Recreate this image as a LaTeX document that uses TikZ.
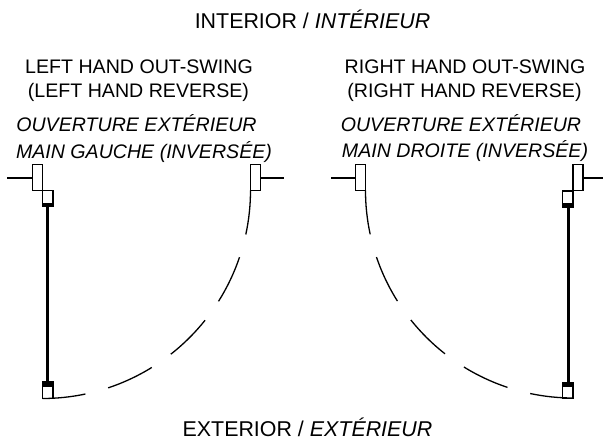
\documentclass[tikz,border=0pt]{standalone}
\usepackage{fontspec}
\setmainfont{Liberation Sans}
\begin{document}
\begin{tikzpicture}[x=1pt,y=-1pt,
  thin line/.style={line width=1.3pt,draw=black},
  leaf/.style={line width=3pt,draw=black},
  block/.style={fill=black,draw=none},
  label/.style={inner sep=0pt,font=\fontsize{19.6pt}{22pt}\selectfont,anchor=base},
  biglabel/.style={label,font=\fontsize{21.4pt}{24pt}\selectfont}]
\useasboundingbox (0,0) rectangle (603,441);
\fill[white] (0,0) rectangle (603,441);
% texts
\node[biglabel] (tI) at (312.5,28.5) {INTERIOR / \textit{INTÉRIEUR}};
\node[biglabel] (tE) at (307.5,436.5) {EXTERIOR / \textit{EXTÉRIEUR}};
\node[label] (tL1) at (139,74) {LEFT HAND OUT-SWING};
\node[label] (tL2) at (138.5,98) {(LEFT HAND REVERSE)};
\node[label] (tL3) at (136.5,132) {\itshape OUVERTURE EXTÉRIEUR};
\node[label] (tL4) at (144,159) {\itshape MAIN GAUCHE (INVERSÉE)};
\node[label] (tR1) at (465,74) {RIGHT HAND OUT-SWING};
\node[label] (tR2) at (464.5,98) {(RIGHT HAND REVERSE)};
\node[label] (tR3) at (461,131.5) {\itshape OUVERTURE EXTÉRIEUR};
\node[label] (tR4) at (465,158) {\itshape MAIN DROITE (INVERSÉE)};
% left door
\draw[thin line] (32.5,164.5) rectangle (42.5,190.5);
\draw[thin line] (7,178) -- (32.5,178);
\draw[thin line] (42.5,190.5) rectangle (53,204);
\fill[block] (41.8,203) rectangle (53.7,207.5);
\draw[leaf] (47.5,205) -- (47.5,384);
\fill[block] (41.8,381) rectangle (53.7,386.5);
\draw[thin line] (42.5,386) rectangle (53,398.5);
\draw[thin line] (250.5,164.5) rectangle (260.5,190.5);
\draw[thin line] (260.5,178) -- (284,178);
% right door
\draw[thin line] (355.5,164.5) rectangle (365.5,190.5);
\draw[thin line] (331,178) -- (355.5,178);
\draw[thin line] (573,164.5) rectangle (583,190.5);
\draw[thin line] (583,178) -- (603,178);
\draw[thin line] (562.5,191) rectangle (573,204);
\fill[block] (561.8,203.5) rectangle (573.7,208);
\draw[leaf] (568,205) -- (568,384);
\fill[block] (561.8,381.5) rectangle (573.7,387);
\draw[thin line] (562.5,386.5) rectangle (573,398.5);
% swing arcs
\foreach \a/\b in {-90/-78.1,-71.6/-58.3,-51.9/-38.6,-32.2/-18.7,-12.2/0}{
  \draw[thin line] (42.5,190.5) ++(\a:208pt) arc[start angle=\a,end angle=\b,radius=208pt];
  \draw[thin line] (573,190.5) ++({-180-\a}:207.5pt) arc[start angle={-180-\a},end angle={-180-\b},radius=207.5pt];
}
\end{tikzpicture}
\end{document}
